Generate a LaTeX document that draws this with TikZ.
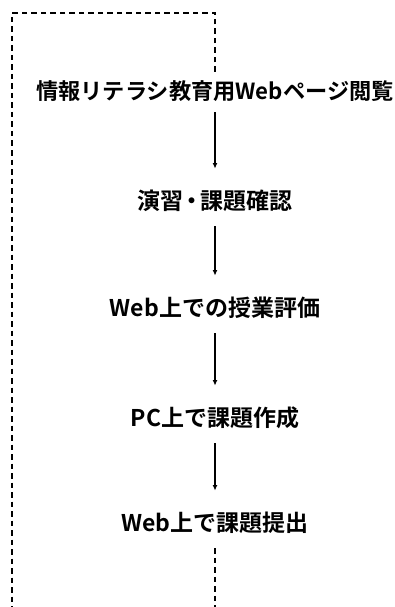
\documentclass[tikz,border=0pt]{standalone}
\usepackage{fontspec}
\setmainfont{Noto Sans CJK JP}[BoldFont={* Bold}]
\usetikzlibrary{arrows.meta}
\begin{document}
\begin{tikzpicture}[x=1pt,y=-1pt,
  stepnode/.style={inner sep=0pt, font=\bfseries\fontsize{23}{23}\selectfont, text height=20pt, text depth=2.5pt},
  arr/.style={line width=1.1pt, -{Latex[length=5.5pt,width=5pt]}, shorten <=14pt, shorten >=21pt},
  loop/.style={line width=1.1pt, dash pattern=on 5.5pt off 4pt}]
\useasboundingbox (0,0) rectangle (395,607);
\node[stepnode, font=\bfseries\fontsize{22.2}{22.2}\selectfont] (n1) at (215,91) {情報リテラシ教育用Webページ閲覧};
\node[stepnode] (n2) at (215,201) {演習\hspace{-3pt}・\hspace{-3pt}課題確認};
\node[stepnode] (n3) at (215,308) {Web上での授業評価};
\node[stepnode] (n4) at (215,418) {PC上で課題作成};
\node[stepnode] (n5) at (215,523) {Web上で課題提出};
\draw[arr, shorten <=10pt] (n1) -- (n2);
\draw[arr] (n2) -- (n3);
\draw[arr] (n3) -- (n4);
\draw[arr] (n4) -- (n5);
\coordinate (tt) at (215,72);
\coordinate (tr) at (215,13);
\coordinate (tl) at (12,13);
\coordinate (bl) at (12,607);
\coordinate (bb) at (215,607);
\draw[loop] (tt) -- (tr) -- (tl) -- (bl);
\draw[loop, shorten <=14pt] (n5) -- (bb);
\end{tikzpicture}
\end{document}
